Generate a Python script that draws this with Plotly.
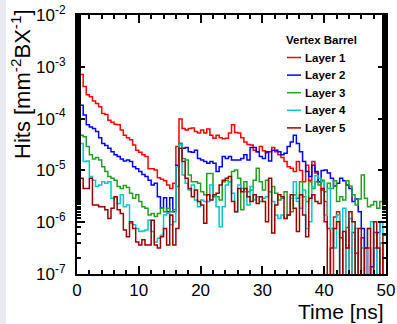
import plotly.graph_objects as go

# Hit density per bunch crossing in the vertex barrel layers, 0.5 ns time bins.
# Values are log10(hits / mm^2 / BX); None marks an empty bin.
BIN_WIDTH = 0.5
N_BINS = 100

L1_LOG10 = [
    -2.72, -3.15, -3.38, -3.54, -3.58, -3.66, -3.71, -3.77, -3.90, -3.92,
    -4.03, -4.07, -4.11, -4.12, -4.22, -4.32, -4.37, -4.41, -4.51, -4.61,
    -4.65, -4.70, -4.73, -4.97, -4.97, -4.99, -5.14, -5.17, -5.20, -5.28,
    -5.35, -5.25, -4.54, -4.01, -4.19, -4.22, -4.19, -4.18, -4.25, -4.28,
    -4.22, -4.28, -4.20, -4.32, -4.38, -4.32, -4.37, -4.39, -4.38, -4.28,
    -4.12, -4.27, -4.28, -4.37, -4.45, -4.50, -4.51, -4.61, -4.64, -4.54,
    -4.62, -4.66, -4.64, -4.56, -4.64, -4.70, -4.75, -4.83, -4.93, -4.96,
    -5.02, -4.83, -5.00, -5.22, -4.90, -5.19, -4.83, -5.05, -5.22, -5.38,
    -5.60, -6.12, None, -5.90, -5.80, -6.30, None, -6.10, None, -6.20,
    -6.60, None, -6.30, None, -6.50, None, -6.20, None, -6.40, None,
]

L2_LOG10 = [
    -3.32, -3.74, -3.93, -4.12, -4.16, -4.19, -4.25, -4.37, -4.48, -4.52,
    -4.57, -4.64, -4.70, -4.73, -4.78, -4.82, -4.80, -4.83, -4.93, -4.97,
    -5.02, -5.08, -5.12, -5.19, -5.28, -5.25, -5.51, -5.73, -5.53, -5.80,
    -5.53, -5.80, -4.90, -4.48, -4.57, -4.56, -4.64, -4.65, -4.61, -4.77,
    -4.80, -4.83, -4.86, -4.83, -4.86, -5.02, -4.93, -4.73, -4.77, -4.73,
    -4.80, -4.80, -4.80, -4.77, -4.70, -4.80, -4.56, -4.56, -4.64, -4.73,
    -4.77, -4.64, -4.82, -4.61, -4.61, -4.64, -4.70, -4.67, -4.54, -4.45,
    -4.32, -4.48, -4.64, -4.83, -5.02, -5.12, -4.90, -5.02, -5.22, -5.00,
    -4.99, -5.05, -5.15, -5.30, -5.25, -5.15, -5.20, -5.28, -5.35, -5.60,
    -5.55, -5.80, -6.12, -6.50, None, -6.86, -6.50, -6.20, -6.00, -6.00,
]

L3_LOG10 = [
    -3.80, -4.32, -4.35, -4.54, -4.70, -4.78, -4.75, -4.80, -4.93, -5.02,
    -5.12, -5.15, -5.19, -5.31, -5.35, -5.29, -5.33, -5.44, -5.54, -5.47,
    -5.60, -5.70, -5.73, -5.86, -5.83, -5.89, -5.83, -5.73, -5.80, -5.73,
    -5.80, -5.76, -5.31, -4.48, -4.77, -4.80, -5.09, -5.22, -5.22, -5.25,
    -5.41, -5.47, -5.06, -5.06, -5.51, -5.51, -5.57, -5.22, -5.19, -5.22,
    -5.02, -4.99, -5.15, -5.76, -5.22, -5.41, -5.38, -5.19, -4.96, -5.22,
    -5.38, -5.19, -5.41, -5.31, -5.44, -5.57, -5.54, -5.41, -5.86, -5.80,
    -5.47, -5.54, -5.22, -5.51, -5.60, -5.22, -5.35, -5.22, -5.28, -5.19,
    -5.41, -5.25, -5.35, -5.20, -5.60, -5.51, -5.57, -5.20, -5.30, -5.47,
    -5.67, -5.55, -5.09, -5.54, -5.70, -5.67, -5.60, -5.73, -5.60, -5.76,
]

L4_LOG10 = [
    -4.22, -4.48, -4.83, -4.82, -5.12, -5.19, -5.31, -5.28, -5.22, -5.25,
    -5.22, -5.54, -5.51, -5.64, -5.47, -5.70, -5.67, -6.02, -6.05, -6.12,
    -6.18, -6.17, -6.15, -5.96, -6.18, -6.38, -6.31, -6.25, -5.86, -5.83,
    -6.05, -5.99, -4.93, -4.51, -5.09, -5.25, -5.38, -5.28, -5.57, -5.70,
    -5.57, -5.60, -5.60, -5.28, -5.47, -5.70, -6.09, -5.70, -5.28, -5.22,
    -5.44, -5.80, -5.28, -5.35, -5.41, -5.67, -5.31, -5.57, -5.51, -5.60,
    -5.54, -5.51, -5.41, -5.60, -5.86, -5.93, -5.86, -5.93, -5.86, -5.54,
    -5.22, -5.60, -5.73, -5.38, -6.12, -5.99, -5.31, -5.10, -5.15, -5.22,
    -5.86, -5.35, -6.12, -6.50, -5.86, None, -5.73, None, -5.93, None,
    -6.12, None, -6.50, None, -6.12, -5.99, -6.50, None, -5.99, -6.25,
]

L5_LOG10 = [
    -4.54, -5.15, -5.35, -5.35, -5.15, -5.67, -5.67, -5.70, -5.70, -5.76,
    -5.93, -5.73, -5.51, -5.76, -5.83, -6.15, -6.28, -5.99, -6.12, -6.38,
    -6.44, -6.34, -6.44, -6.44, -5.96, -6.44, -6.50, -6.28, -6.12, -6.44,
    -5.86, -6.44, -6.12, -4.57, -4.83, -5.15, -5.35, -5.51, -5.38, -5.60,
    -5.67, -6.02, -5.47, -5.57, -5.47, -5.44, -5.28, -5.19, -5.15, -5.12,
    -5.60, -5.80, -5.35, -5.41, -5.35, -5.51, -5.60, -5.47, -5.64, -5.51,
    -5.60, -5.99, -5.15, -6.21, -5.67, -5.47, -5.51, -5.93, -5.86, -5.47,
    -5.73, -6.18, -5.47, -5.86, -6.28, -5.54, -5.47, -5.60, -5.64, -5.35,
    -5.99, None, -6.50, -6.12, -5.99, None, -6.18, -6.50, -5.80, -5.99,
    None, -6.12, None, -6.50, -6.12, None, -5.99, -6.50, None, -6.25,
]

LAYER_NAMES = ["Layer 1", "Layer 2", "Layer 3", "Layer 4", "Layer 5"]
LAYER_COLORS = ["#ff0000", "#0000ff", "#22a022", "#00c8c8", "#990000"]
LAYER_DATA = [L1_LOG10, L2_LOG10, L3_LOG10, L4_LOG10, L5_LOG10]

Y_TICK_EXP = [-7, -6, -5, -4, -3, -2]
X_TICKS = [0, 10, 20, 30, 40, 50]

# Empty bins drop below the axis floor, like an empty histogram bin on a log scale.
EMPTY_FLOOR = 1e-10

W, H = 397, 324
ML, MR, MT, MB = 77, 11, 15, 50
PW, PH = W - ML - MR, H - MT - MB


def px_x(p):
    return (p - ML) / PW


def px_y(p):
    return 1 - (p - MT) / PH


edges = [i * BIN_WIDTH for i in range(N_BINS + 1)]

fig = go.Figure()
for name, color, logs in zip(LAYER_NAMES, LAYER_COLORS, LAYER_DATA):
    vals = [10 ** v if v is not None else EMPTY_FLOOR for v in logs]
    fig.add_trace(go.Scatter(
        x=edges,
        y=vals + [vals[-1]],
        mode="lines",
        line=dict(color=color, width=1.5, shape="hv"),
        name=name,
        showlegend=False,
        hoverinfo="skip",
    ))

font_family = "Liberation Sans, Arial, sans-serif"

fig.update_layout(
    width=W, height=H,
    margin=dict(l=ML, r=MR, t=MT, b=MB, pad=0, autoexpand=False),
    paper_bgcolor="white",
    plot_bgcolor="white",
    font=dict(family=font_family, color="black"),
    xaxis=dict(
        range=[0, 50],
        tickvals=X_TICKS,
        ticktext=[str(v) for v in X_TICKS],
        ticks="inside", ticklen=8, tickwidth=1.5, tickcolor="black",
        minor=dict(ticks="inside", ticklen=4, tickwidth=1.5, dtick=2, tickcolor="black", showgrid=False),
        showline=True, linewidth=2, linecolor="black", mirror="allticks",
        showgrid=False, zeroline=False, automargin=False,
        tickfont=dict(size=17),
        ticklabelstandoff=0,
    ),
    yaxis=dict(
        type="log",
        range=[-7, -2],
        tickvals=[10 ** e for e in Y_TICK_EXP],
        ticktext=["10<sup>%d</sup>" % e for e in Y_TICK_EXP],
        ticks="inside", ticklen=8, tickwidth=1.5, tickcolor="black",
        minor=dict(ticks="inside", ticklen=4, tickwidth=1.5, tickcolor="black", showgrid=False),
        showline=True, linewidth=2, linecolor="black", mirror="allticks",
        showgrid=False, zeroline=False, automargin=False,
        tickfont=dict(size=17),
        ticklabelstandoff=6,
    ),
)

# Lavender strip along the left edge of the canvas
fig.add_shape(type="rect", xref="paper", yref="paper",
              x0=px_x(0), x1=px_x(6), y0=px_y(H), y1=px_y(0),
              fillcolor="#e8e8f3", line=dict(width=0), layer="below")

# Axis titles
fig.add_annotation(
    xref="paper", yref="paper", x=px_x(21), y=px_y(7),
    xanchor="center", yanchor="top", textangle=-90, showarrow=False,
    text="Hits [mm<sup>-2</sup>BX<sup>-1</sup>]",
    font=dict(size=22, family=font_family),
)
fig.add_annotation(
    xref="paper", yref="paper", x=px_x(386), y=px_y(311),
    xanchor="right", yanchor="middle", showarrow=False,
    text="Time [ns]", font=dict(size=21, family=font_family),
)

# Legend box
fig.add_annotation(
    xref="paper", yref="paper", x=px_x(284), y=px_y(40),
    xanchor="left", yanchor="middle", showarrow=False,
    text="<b>Vertex Barrel</b>", font=dict(size=11.5, family=font_family),
)
for i, (name, color) in enumerate(zip(LAYER_NAMES, LAYER_COLORS)):
    yc = 57.5 + i * 17.6
    fig.add_shape(type="line", xref="paper", yref="paper",
                  x0=px_x(287), x1=px_x(301), y0=px_y(yc), y1=px_y(yc),
                  line=dict(color=color, width=1.5))
    fig.add_annotation(
        xref="paper", yref="paper", x=px_x(303), y=px_y(yc),
        xanchor="left", yanchor="middle", showarrow=False,
        text="<b>%s</b>" % name, font=dict(size=11.5, family=font_family),
    )

fig.write_html("out.html")
